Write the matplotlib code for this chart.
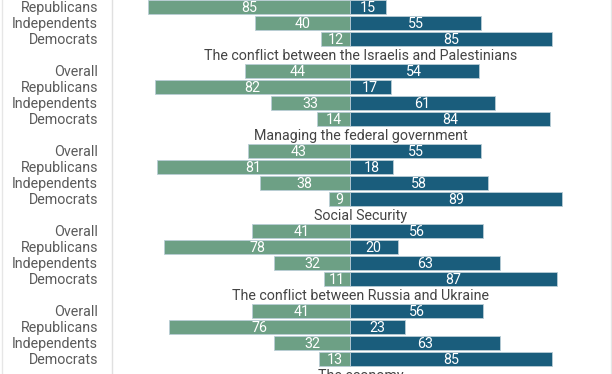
import matplotlib
matplotlib.use("Agg")
import matplotlib.pyplot as plt
from matplotlib.lines import Line2D

plt.rcParams["font.family"] = ["Roboto", "DejaVu Sans"]

segments = ["Overall", "Republicans", "Independents", "Democrats"]
titles = [
    "",
    "The conflict between the Israelis and Palestinians",
    "Managing the federal government",
    "Social Security",
    "The conflict between Russia and Ukraine",
    "The economy",
]
# green (left) and blue (right) shares per group; None = not visible
green_vals = [
    [None, 85, 40, 12],
    [44, 82, 33, 14],
    [43, 81, 38, 9],
    [41, 78, 32, 11],
    [41, 76, 32, 13],
    [None, None, None, None],
]
blue_vals = [
    [None, 15, 55, 85],
    [54, 17, 61, 84],
    [55, 18, 58, 89],
    [56, 20, 63, 87],
    [56, 23, 63, 85],
    [None, None, None, None],
]

green = "#6da085"
blue = "#1a5d7c"
edge = "#b9cdd6"
label_color = "#5a5a5a"
fs = 10.3

fig = plt.figure(figsize=(6.12, 3.74), dpi=100)
ax = fig.add_axes([112 / 612, 0, (610 - 112) / 612, 1])

yticks, ylabels = [], []
for g, title in enumerate(titles):
    base = 5 * g
    ax.text(0.5, base, title, transform=ax.get_yaxis_transform(),
            ha="center", va="center_baseline", fontsize=fs, color="#444444",
            clip_on=False)
    for i, seg in enumerate(segments):
        y = base + 1 + i
        gv, bv = green_vals[g][i], blue_vals[g][i]
        if gv is None:
            continue
        yticks.append(y)
        ylabels.append(seg)
        ax.barh(y, -gv, height=0.88, color=green, edgecolor=edge, linewidth=0.6)
        ax.barh(y, bv, height=0.88, color=blue, edgecolor=edge, linewidth=0.6)
        ax.text(-gv / 2, y, str(gv), ha="center", va="center_baseline",
                color="white", fontsize=fs)
        ax.text(bv / 2, y, str(bv), ha="center", va="center_baseline",
                color="white", fontsize=fs)

ax.set_yticks(yticks)
ax.set_yticklabels(ylabels, fontsize=fs, color=label_color)
ax.tick_params(axis="y", length=0, pad=10)
ax.set_xticks([])
ax.set_xlim(-100, 109.2)
ax.set_ylim(24.94, 1.5625)
for side in ["top", "right", "bottom"]:
    ax.spines[side].set_visible(False)
ax.spines["left"].set_color("#e0e0e0")
ax.spines["left"].set_linewidth(1)

# outer frame edges
for xf in [1.5 / 612, 610.5 / 612]:
    fig.add_artist(Line2D([xf, xf], [0, 1], color="#e6e6e6", linewidth=1))

fig.savefig("out.png", dpi=100)
